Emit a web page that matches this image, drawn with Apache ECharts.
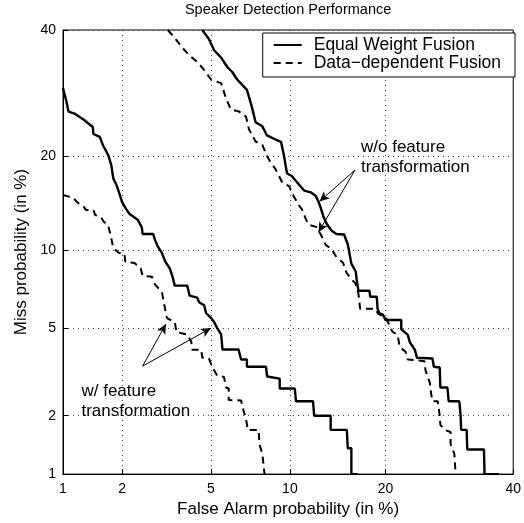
<!DOCTYPE html>
<html>
<head>
<meta charset="utf-8">
<script src="https://cdn.jsdelivr.net/npm/echarts@6/dist/echarts.min.js"></script>
<style>
  html, body { margin: 0; padding: 0; background: #fff; }
  #chart { width: 524px; height: 523px; }
</style>
</head>
<body>
<div id="chart"></div>
<script>
// tick labels (in %)
var tickPercents = [1, 2, 5, 10, 20, 40];

// w/ feature transformation, equal weight fusion (solid)
var ewWithX = [1, 1.04, 1.07, 1.15, 1.28, 1.43, 1.44, 1.55, 1.61, 1.71, 1.77, 1.81, 1.87, 1.93, 2.0, 2.09, 2.17, 2.38, 2.48, 2.5, 2.8, 2.85, 2.94, 3.07, 3.17, 3.33, 3.43, 3.5, 3.97, 4.06, 4.38, 4.46, 4.68, 4.77, 5.0, 5.15, 5.3, 5.5, 5.57, 6.45, 6.6, 6.95, 6.95, 8.2, 8.28, 9.2, 9.2, 10.4, 10.5, 12.0, 12.1, 13.7, 13.7, 15.4, 15.5, 15.9, 15.9, 16.6];
var ewWithY = [30, 28, 26.3, 26, 25.1, 24, 23, 22.6, 21.4, 20.1, 18.8, 17.2, 16.5, 15.6, 14.5, 13.8, 13.3, 12.7, 12, 11.4, 11.4, 10.9, 10.3, 9.77, 9.14, 8.57, 7.95, 7.4, 7.4, 6.77, 6.65, 6.37, 6.2, 5.77, 5.5, 5.3, 5.0, 4.7, 4.05, 4.05, 3.66, 3.66, 3.4, 3.4, 3.07, 3.0, 2.7, 2.7, 2.35, 2.35, 2.0, 2.0, 1.7, 1.7, 1.37, 1.37, 1.0, 1.0];

// w/ feature transformation, data-dependent fusion (dashed)
var ddWithX = [1, 1.13, 1.19, 1.29, 1.32, 1.44, 1.47, 1.57, 1.63, 1.7, 1.75, 1.81, 1.92, 2.05, 2.07, 2.29, 2.45, 2.5, 2.76, 2.85, 3.07, 3.13, 3.23, 3.5, 3.57, 3.97, 4.13, 4.17, 4.55, 4.6, 4.9, 5.05, 5.3, 5.65, 5.75, 5.9, 5.9, 6.6, 6.75, 6.9, 7.0, 7.7, 7.75, 7.95, 8.1];
var ddWithY = [15.3, 15.0, 14.5, 14.0, 13.7, 13.7, 13.2, 13.0, 12.5, 12.3, 11.4, 10.2, 9.8, 9.7, 9.1, 9.0, 8.6, 8.06, 8.0, 7.5, 6.95, 6.37, 5.5, 5.3, 4.8, 4.7, 4.38, 4.04, 4.04, 3.73, 3.7, 3.4, 3.1, 3.05, 2.73, 2.7, 2.38, 2.37, 2.11, 1.92, 1.7, 1.7, 1.44, 1.28, 1.0];

// w/o feature transformation, equal weight fusion (solid)
var ewWithoutX = [4.6, 4.9, 5.15, 5.5, 5.82, 6.08, 6.37, 6.95, 7.25, 7.5, 7.95, 8.27, 8.8, 9.3, 9.5, 9.77, 10.15, 10.75, 11.2, 11.8, 12.25, 12.5, 12.7, 13.0, 13.3, 13.8, 14.3, 15.1, 15.5, 15.9, 16.4, 16.5, 16.7, 18.0, 18.1, 18.9, 19.0, 19.2, 19.7, 20.0, 22.1, 22.1, 23.0, 23.3, 24.0, 24.3, 26.6, 26.8, 27.7, 27.8, 28.9, 29.1, 30.8, 31.0, 31.1, 32.0, 32.1, 34.9, 35.0, 37.5];
var ewWithoutY = [40, 38.4, 36.4, 35.1, 33.5, 32.7, 31.4, 29.7, 27.1, 24.7, 24.1, 22.8, 22.3, 21.9, 20.3, 17.8, 17.5, 16.5, 15.8, 15.6, 15.2, 14.6, 14.0, 13.0, 12.35, 11.7, 11.4, 11.35, 10.5, 8.95, 8.35, 7.8, 7.07, 7.07, 6.7, 6.7, 6.0, 5.77, 5.67, 5.4, 5.4, 4.95, 4.68, 4.35, 4.04, 3.73, 3.7, 3.4, 3.37, 2.73, 2.73, 2.35, 2.35, 2.02, 1.7, 1.7, 1.35, 1.35, 1.0, 1.0];

// w/o feature transformation, data-dependent fusion (dashed)
var ddWithoutX = [3.26, 3.5, 3.77, 4.05, 4.4, 4.68, 5.0, 5.5, 5.77, 6.03, 6.48, 6.9, 7.07, 7.5, 7.95, 8.27, 8.55, 8.9, 9.4, 9.93, 10.3, 10.75, 11.0, 11.35, 11.6, 12.3, 12.7, 13.2, 13.8, 14.2, 15.0, 15.35, 15.8, 16.35, 16.7, 16.9, 18.7, 19.1, 20.1, 20.5, 20.9, 21.6, 21.9, 22.7, 23.0, 25.4, 25.55, 26.2, 26.35, 26.6, 27.4, 27.7, 27.8, 28.45, 29.4, 29.4, 30.0, 30.2];
var ddWithoutY = [40, 38.6, 36.9, 35.5, 34.3, 33.0, 31.4, 30.8, 28.2, 26.6, 26.3, 25.5, 23.7, 21.95, 21.5, 20.0, 19.1, 18.3, 16.7, 16.3, 15.2, 14.2, 13.8, 12.8, 12.25, 12.05, 11.4, 10.45, 10.1, 9.55, 9.0, 8.3, 7.9, 7.55, 6.9, 6.0, 6.0, 5.72, 5.5, 5.15, 4.83, 4.68, 4.15, 3.96, 3.66, 3.6, 3.28, 2.87, 2.6, 2.35, 2.35, 2.0, 1.8, 1.7, 1.66, 1.44, 1.28, 1.0];

// annotations (data coords in %)
var noteWithout = { text: 'w/o feature\ntransformation', at: [17, 19.8] };
var noteWith = { text: 'w/ feature\ntransformation', at: [1.25, 2.36] };
var arrowLines = [
  [[16.3, 18.2], [12.6, 14.6]],
  [[16.3, 18.2], [12.5, 11.55]],
  [[2.5, 3.42], [3.2, 5.2]],
  [[2.5, 3.42], [5.0, 5.0]]
];

// inverse normal cdf (Acklam)
function probit(p) {
  var a = [-3.969683028665376e+01, 2.209460984245205e+02, -2.759285104469687e+02, 1.383577518672690e+02, -3.066479806614716e+01, 2.506628277459239e+00];
  var b = [-5.447609879822406e+01, 1.615858368580409e+02, -1.556989798598866e+02, 6.680131188771972e+01, -1.328068155288572e+01];
  var c = [-7.784894002430293e-03, -3.223964580411365e-01, -2.400758277161838e+00, -2.549732539343734e+00, 4.374664141464968e+00, 2.938163982698783e+00];
  var d = [7.784695709041462e-03, 3.224671290700398e-01, 2.445134137142996e+00, 3.754408661907416e+00];
  var plow = 0.02425, q, r;
  if (p < plow) {
    q = Math.sqrt(-2 * Math.log(p));
    return (((((c[0]*q+c[1])*q+c[2])*q+c[3])*q+c[4])*q+c[5]) / ((((d[0]*q+d[1])*q+d[2])*q+d[3])*q+1);
  }
  if (p <= 1 - plow) {
    q = p - 0.5; r = q * q;
    return (((((a[0]*r+a[1])*r+a[2])*r+a[3])*r+a[4])*r+a[5])*q / (((((b[0]*r+b[1])*r+b[2])*r+b[3])*r+b[4])*r+1);
  }
  q = Math.sqrt(-2 * Math.log(1 - p));
  return -(((((c[0]*q+c[1])*q+c[2])*q+c[3])*q+c[4])*q+c[5]) / ((((d[0]*q+d[1])*q+d[2])*q+d[3])*q+1);
}
function pv(pct) { return probit(pct / 100); }
function toData(xs, ys) {
  return xs.map(function (x, i) { return [pv(x), pv(ys[i])]; });
}

var tickVals = tickPercents.map(pv);
function tickLabel(v) {
  for (var i = 0; i < tickVals.length; i++) {
    if (Math.abs(v - tickVals[i]) < 1e-6) return String(tickPercents[i]);
  }
  return '';
}

var FONT = 'Liberation Sans, Arial, Helvetica, sans-serif';
var SOLID = { color: '#000', width: 2.4, type: 'solid' };
var DASH = { color: '#000', width: 2, type: [7, 5] };

function makeAxis(name, gap, isY) {
  return {
    type: 'value',
    min: pv(1), max: pv(40),
    name: name,
    nameLocation: 'middle',
    nameGap: gap,
    nameTextStyle: { fontFamily: FONT, fontSize: 17, color: '#000' },
    axisLine: { show: true, onZero: false, lineStyle: { color: '#000', width: 1 } },
    axisTick: { show: true, inside: true, length: 5, customValues: tickVals, lineStyle: { color: '#000' } },
    axisLabel: {
      customValues: tickVals,
      formatter: tickLabel,
      fontFamily: FONT, fontSize: 14, color: '#000',
      margin: isY ? 7 : 8
    },
    splitLine: { show: true, lineStyle: { color: '#444', width: 1, type: [1, 4] } }
  };
}

var chart = echarts.init(document.getElementById('chart'), null, { renderer: 'canvas' });

var option = {
  animation: false,
  backgroundColor: '#fff',
  grid: {
    left: 63, right: 7, top: 30, bottom: 41,
    show: true, borderColor: '#000', borderWidth: 1
  },
  legend: {
    orient: 'vertical',
    right: 9, top: 33,
    data: ['Equal Weight Fusion', 'Data\u2212dependent Fusion'],
    backgroundColor: '#fff',
    borderColor: '#000',
    borderWidth: 1,
    padding: [3, 14, 5, 10],
    itemGap: 0,
    itemWidth: 28,
    itemHeight: 14,
    itemStyle: { color: 'rgba(0,0,0,0)', borderWidth: 0 },
    textStyle: { fontFamily: FONT, fontSize: 17.5, color: '#000', padding: [0, 0, 0, 7] },
    selectedMode: false
  },
  xAxis: makeAxis('False Alarm probability (in %)', 25, false),
  yAxis: makeAxis('Miss probability (in %)', 31, true),
  series: [
    {
      name: 'Equal Weight Fusion', type: 'line', symbol: 'none',
      data: toData(ewWithX, ewWithY), lineStyle: SOLID, itemStyle: { color: '#000' },
      markLine: {
        silent: true, symbol: ['none', 'arrow'], symbolSize: [7, 10],
        label: { show: false },
        lineStyle: { color: '#000', width: 1, type: 'solid' },
        data: arrowLines.map(function (seg) {
          return [{ coord: [pv(seg[0][0]), pv(seg[0][1])] }, { coord: [pv(seg[1][0]), pv(seg[1][1])] }];
        })
      }
    },
    {
      name: 'Data\u2212dependent Fusion', type: 'line', symbol: 'none',
      data: toData(ddWithX, ddWithY), lineStyle: DASH, itemStyle: { color: '#000' }
    },
    {
      name: 'Equal Weight Fusion', type: 'line', symbol: 'none',
      data: toData(ewWithoutX, ewWithoutY), lineStyle: SOLID, itemStyle: { color: '#000' }
    },
    {
      name: 'Data\u2212dependent Fusion', type: 'line', symbol: 'none',
      data: toData(ddWithoutX, ddWithoutY), lineStyle: DASH, itemStyle: { color: '#000' }
    }
  ]
};
chart.setOption(option);

// title and annotation texts placed from data coords
function px(pt) { return chart.convertToPixel({ gridIndex: 0 }, [pv(pt[0]), pv(pt[1])]); }
var pWithout = px(noteWithout.at);
var pWith = px(noteWith.at);
var pMid = chart.convertToPixel({ gridIndex: 0 }, [(pv(1) + pv(40)) / 2, pv(40)]);

chart.setOption({
  graphic: [
    {
      type: 'text', x: pMid[0], y: 10,
      style: { text: 'Speaker Detection Performance', fontFamily: FONT, fontSize: 14.5, fill: '#000', textAlign: 'center', textVerticalAlign: 'middle' }
    },
    {
      type: 'text', x: pWithout[0], y: pWithout[1],
      style: { text: noteWithout.text, fontFamily: FONT, fontSize: 17, lineHeight: 20, fill: '#000', textAlign: 'left', textVerticalAlign: 'middle' }
    },
    {
      type: 'text', x: pWith[0], y: pWith[1],
      style: { text: noteWith.text, fontFamily: FONT, fontSize: 17, lineHeight: 20, fill: '#000', textAlign: 'left', textVerticalAlign: 'middle' }
    }
  ]
});

window.addEventListener('resize', function () {
  chart.resize();
});
</script>
</body>
</html>
